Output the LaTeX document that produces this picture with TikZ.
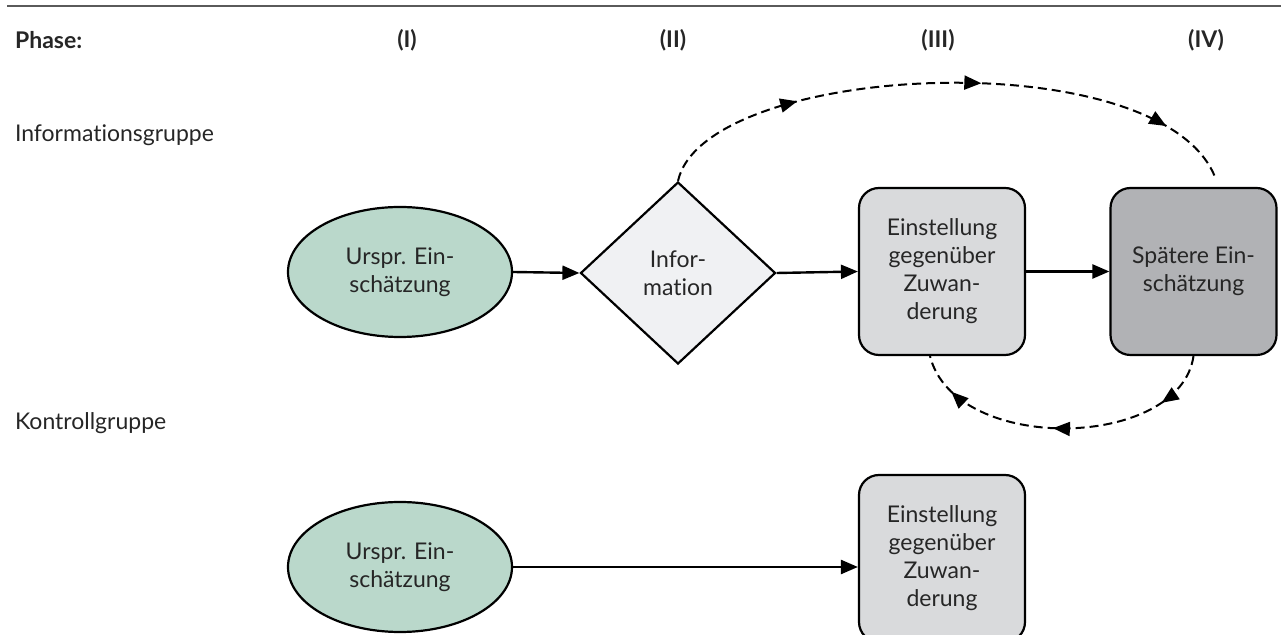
\documentclass[tikz,border=0pt]{standalone}
\usepackage{fontspec}
\setmainfont{Lato}[Ligatures=NoCommon]
\usetikzlibrary{shapes.geometric,arrows.meta,decorations.markings}

\definecolor{gruen}{HTML}{BAD8CB}
\definecolor{hell}{HTML}{F0F1F3}
\definecolor{mittel}{HTML}{D9DADC}
\definecolor{dunkel}{HTML}{B1B2B5}
\definecolor{schrift}{HTML}{262626}
\definecolor{linie}{HTML}{5A5A5A}

\tikzset{spitze/.tip={Triangle[length=8.5pt,width=7pt]}}

\begin{document}
\begin{tikzpicture}[x=0.5pt,y=-0.5pt,text=schrift,
    font=\fontsize{11.5}{14}\selectfont,
    oval/.style={ellipse,draw,line width=1.1pt,fill=gruen,inner sep=0pt,
                 minimum width=112pt,minimum height=65pt,align=center},
    raute/.style={diamond,draw,line width=1.1pt,fill=hell,inner sep=0pt,
                  minimum width=97.5pt,minimum height=91pt,align=center},
    kasten/.style={rectangle,rounded corners=10pt,draw,line width=1.1pt,fill=mittel,
                   inner sep=0pt,minimum width=83pt,minimum height=83.5pt,align=center},
    phase/.style={font=\fontsize{11.5}{14}\selectfont\bfseries},
    pfeil/.style={line width=1.2pt,-spitze},
    bogen/.style={line width=1pt,dash pattern=on 4.5pt off 2.5pt},
    obenpfeile/.style={postaction={decorate},decoration={markings,
        mark=at position 0.25 with {\arrow{spitze}},
        mark=at position 0.56 with {\arrow{spitze}},
        mark=at position 0.88 with {\arrow{spitze}}}},
    untenpfeile/.style={postaction={decorate},decoration={markings,
        mark=at position 0.18 with {\arrow{spitze}},
        mark=at position 0.53 with {\arrow{spitze}},
        mark=at position 0.87 with {\arrow{spitze}}}}]
\clip (0,0) rectangle (1281,635);

\draw[linie,line width=1pt] (7,6.5) -- (1281,6.5);

% Kopfzeile
\node[phase,anchor=west] (ph) at (8,40) {Phase:};
\node[phase] (p1) at (407,40) {(I)};
\node[phase] (p2) at (673,40) {(II)};
\node[phase] (p3) at (938,40) {(III)};
\node[phase] (p4) at (1206,40) {(IV)};

\node[anchor=west] (ig) at (8,135) {Informationsgruppe};
\node[anchor=west] (kg) at (8,423) {Kontrollgruppe};

% Informationsgruppe
\node[oval] (u1) at (400,272) {Urspr. Ein-\\schätzung};
\node[raute] (info) at (678,273) {Infor-\\mation};
\node[kasten] (e1) at (942,271.5) {Einstellung\\gegenüber\\Zuwan-\\derung};
\node[kasten,fill=dunkel] (s1) at (1193.5,271.5) {Spätere Ein-\\schätzung};

\draw[pfeil] (u1.east) -- (info.west);
\draw[pfeil] (info.east) -- (e1.west);
\draw[pfeil] (e1.east) -- (s1.west);

\coordinate (oben) at (1215,177);
\draw[bogen,obenpfeile] (info.north) .. controls (705,62) and (1160,40) .. (oben);
\draw[bogen,untenpfeile] (s1.south) .. controls (1180,450) and (955,455) .. ([xshift=-6pt]e1.south);

% Kontrollgruppe
\node[oval] (u2) at (400,567) {Urspr. Ein-\\schätzung};
\node[kasten] (e2) at (942,558.5) {Einstellung\\gegenüber\\Zuwan-\\derung};

\draw[pfeil] (u2.east) -- (u2.east -| e2.west);
\end{tikzpicture}
\end{document}
